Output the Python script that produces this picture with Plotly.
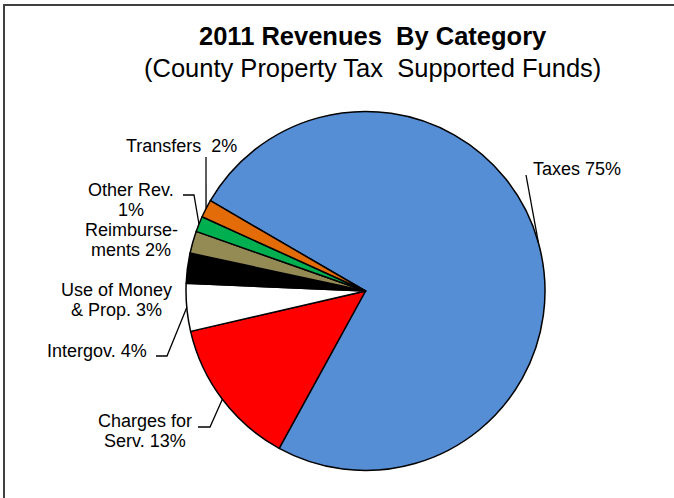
import math
import plotly.graph_objects as go

# Revenue categories, in clockwise drawing order
categories = ["Taxes", "Charges for Serv.", "Intergov.", "Use of Money & Prop.",
              "Reimbursements", "Other Rev.", "Transfers"]
shares = [74.6, 13.4, 4.3, 2.7, 2.0, 1.4, 1.6]
colors = ["#558ED5", "#FF0000", "#FFFFFF", "#000000", "#948A54", "#00B050", "#E36C09"]

# label lines ({p} is replaced by the rounded percentage)
label_lines = [["Taxes {p}%"], ["Charges for", "Serv. {p}%"], ["Intergov. {p}%"],
               ["Use of Money", "&amp; Prop. {p}%"], ["Reimburse-", "ments {p}%"],
               ["Other Rev.", "{p}%"], ["Transfers&nbsp; {p}%"]]

W, H = 674, 498
FONT = "Liberation Sans, Arial, sans-serif"
LINE_GAP = 20.5

# pie placement in pixels
CX, CY, R = 365.5, 291.0, 179.5
ROTATION = 300.2

# label centres (px) and leader-line elbows (px) per category
label_pos = [(577, 169), (145, 431), (97, 351), (116, 300), (131, 240), (131, 200), (181, 146)]
leader_start = [[(526, 175)], [(198, 427), (210, 427)], [(156, 356), (167, 356)], None, None,
                [(183, 195), (194, 195)], [(206, 157)]]


def px(x, y):
    return x / W, 1 - y / H


fig = go.Figure(go.Pie(
    labels=categories,
    values=shares,
    sort=False,
    direction="clockwise",
    rotation=ROTATION,
    marker=dict(colors=colors, line=dict(color="#000000", width=1.5)),
    textinfo="none",
    showlegend=False,
    domain=dict(x=[(CX - R) / W, (CX + R) / W], y=[1 - (CY + R) / H, 1 - (CY - R) / H]),
))

total = sum(shares)
annotations = []
shapes = []
angle = ROTATION
for i, v in enumerate(shares):
    span = v / total * 360
    mid = math.radians(angle + span / 2)
    angle += span
    pct = round(v / total * 100)
    lx, ly = label_pos[i]
    lines = label_lines[i]
    for k, line in enumerate(lines):
        yy = ly + (k - (len(lines) - 1) / 2) * LINE_GAP
        ax, ay = px(lx, yy)
        annotations.append(dict(
            x=ax, y=ay, xref="paper", yref="paper", xanchor="center", yanchor="middle",
            text=line.format(p=pct), showarrow=False,
            font=dict(family=FONT, size=18, color="#000000"),
        ))
    if leader_start[i]:
        rim = (CX + R * math.sin(mid), CY - R * math.cos(mid))
        pts = leader_start[i] + [rim]
        path = "M " + " L ".join(f"{px(x, y)[0]:.5f},{px(x, y)[1]:.5f}" for x, y in pts)
        shapes.append(dict(type="path", path=path, xref="paper", yref="paper",
                           line=dict(color="#000000", width=1.3)))

# two-line chart title
tx, ty = px(373, 36)
annotations.append(dict(x=tx, y=ty, xref="paper", yref="paper", xanchor="center", yanchor="middle",
                        text="<b>2011 Revenues&nbsp; By Category</b>", showarrow=False,
                        font=dict(family=FONT, size=25.5, color="#000000")))
tx, ty = px(372.5, 68)
annotations.append(dict(x=tx, y=ty, xref="paper", yref="paper", xanchor="center", yanchor="middle",
                        text="(County Property Tax&nbsp; Supported Funds)", showarrow=False,
                        font=dict(family=FONT, size=25.5, color="#000000")))

# chart-area frame
x0, y1 = px(4, 5)
shapes.append(dict(type="rect", xref="paper", yref="paper", x0=x0, y0=-0.05, x1=1.05, y1=y1,
                   line=dict(color="#404040", width=2), fillcolor="rgba(0,0,0,0)"))

fig.update_layout(
    width=W, height=H,
    margin=dict(l=0, r=0, t=0, b=0),
    paper_bgcolor="#FFFFFF",
    plot_bgcolor="#FFFFFF",
    annotations=annotations,
    shapes=shapes,
)

fig.write_html("out.html")
